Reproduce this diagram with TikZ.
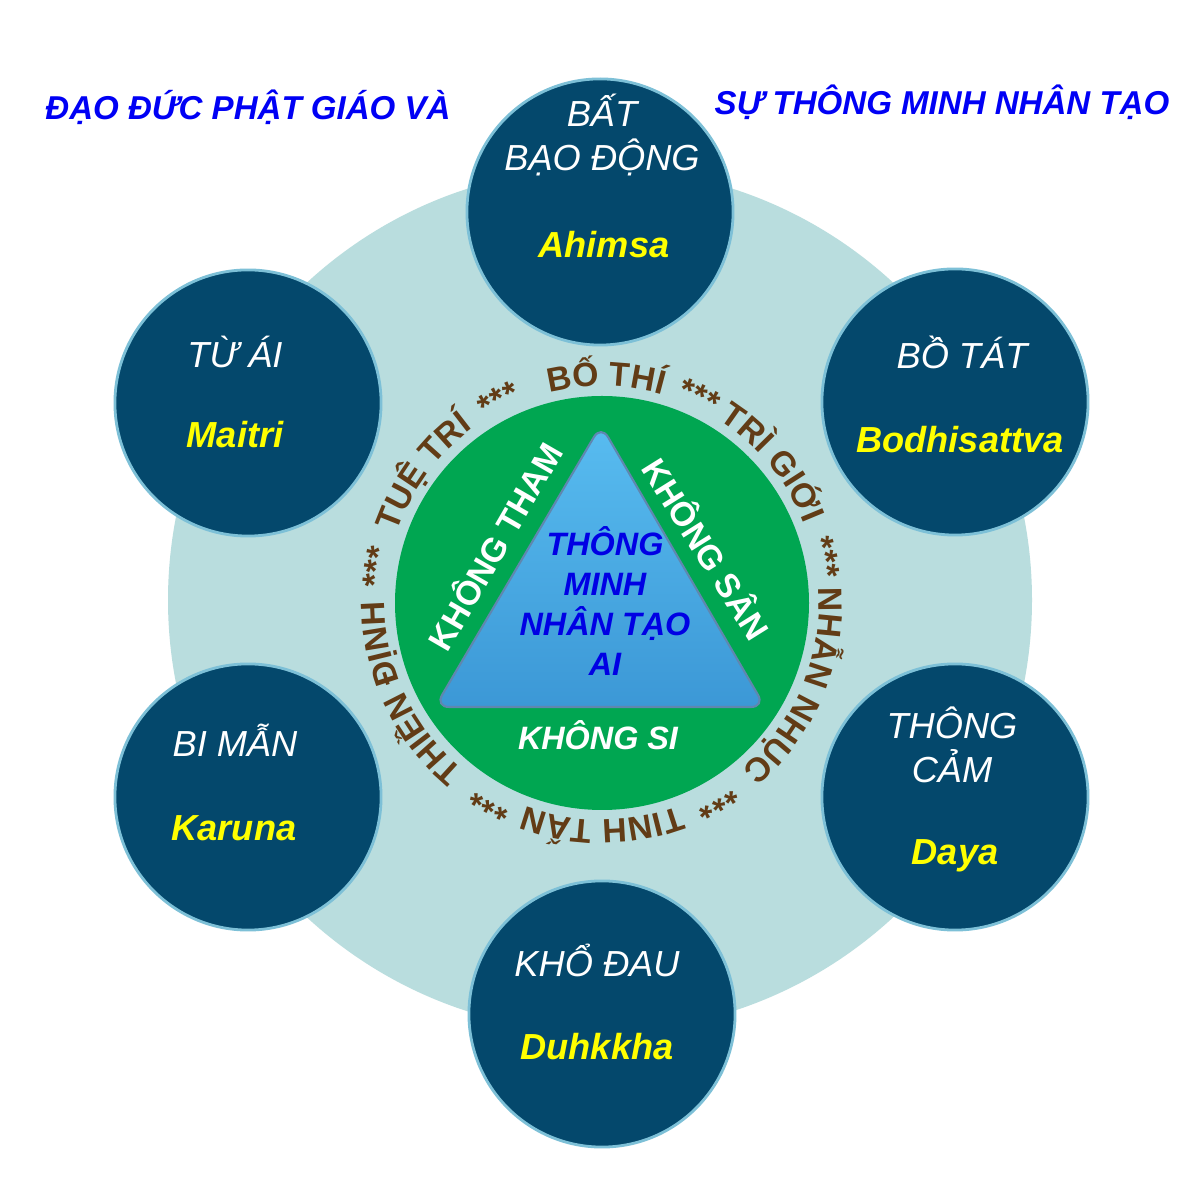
\documentclass[tikz,border=0pt]{standalone}
\usepackage{fontspec}
\setmainfont{Liberation Sans}
\definecolor{TitleBlue}{RGB}{0, 0, 245}
\definecolor{CoreBlue}{RGB}{0, 0, 228}
\definecolor{VirtueTeal}{RGB}{4, 72, 108}
\definecolor{RimBlue}{RGB}{125, 192, 215}
\definecolor{HaloGrey}{RGB}{185, 221, 222}
\definecolor{PathGreen}{RGB}{0, 166, 81}
\definecolor{RingBrown}{RGB}{98, 60, 22}
\definecolor{SkyTop}{RGB}{88, 188, 240}
\definecolor{SkyBottom}{RGB}{60, 152, 214}
\definecolor{SkyEdge}{RGB}{95, 135, 175}
\definecolor{PaliYellow}{RGB}{255, 255, 0}
\usepackage{tikz}
\usetikzlibrary{positioning, calc, decorations.text}

\newcommand{\ringword}[2]{%
	\path[decorate, decoration={text along path, text align=center, text color=RingBrown,
		text={|\fontsize{9.6}{11}\selectfont\bfseries|#2}}]
		(hub) ++(#1+45:217) arc[start angle=#1+45, end angle=#1-45, radius=217];
}

\begin{document}
\begin{tikzpicture}[x=0.01cm, y=0.01cm,
		virtue/.style={circle, fill=VirtueTeal, draw=RimBlue, line width=0.8pt, minimum size=2.66cm, inner sep=0pt},
		vname/.style={text=white, font=\fontsize{10.3}{12.6}\selectfont\itshape, align=center},
		pali/.style={text=PaliYellow, font=\fontsize{10.3}{12}\selectfont\bfseries\itshape},
		title/.style={text=TitleBlue, font=\fontsize{9.4}{11}\selectfont\bfseries\itshape},
		poison/.style={text=white, font=\fontsize{9.6}{11}\selectfont\bfseries},
		core/.style={text=CoreBlue, font=\fontsize{9.2}{11.3}\selectfont\bfseries\itshape, align=center}]
	\fill[white] (0,0) rectangle (1200,1200);
	\useasboundingbox (0,0) rectangle (1200,1200);

	\coordinate (hub) at (602,597);
	\fill[HaloGrey] (600,600) circle[radius=432];
	\fill[PathGreen] (hub) circle[radius=207];
	\draw[SkyEdge, line width=0.6pt, rounded corners=4pt, top color=SkyTop, bottom color=SkyBottom]
		(435,493) -- (601,775) -- (765,493) -- cycle;

	\node[core] (ai) at (605,599) {THÔNG\\MINH\\NHÂN TẠO\\AI};
	\node[poison, rotate=60] (tham) at (493,655) {KHÔNG THAM};
	\node[poison, rotate=-58] (san) at (708,652) {KHÔNG SÂN};
	\node[poison, font=\fontsize{9.2}{11}\selectfont\bfseries\itshape] (si) at (598,465) {KHÔNG SI};

	\ringword{89}{BỐ THÍ}
	\ringword{64.8}{***}
	\ringword{39.5}{TRÌ GIỚI}
	\ringword{11.5}{***}
	\ringword{-23}{NHẪN NHỤC}
	\ringword{-60}{***}
	\ringword{-90}{TINH TẤN}
	\ringword{-119}{***}
	\ringword{-155}{THIỀN ĐỊNH}
	\ringword{-189}{***}
	\ringword{143.7}{TUỆ TRÍ}
	\ringword{117}{***}

	\node[virtue] (ahimsa) at (600,988) {};
	\node[virtue] (maitri) at (248,797) {};
	\node[virtue] (bodhi) at (955,798) {};
	\node[virtue] (karuna) at (248,403) {};
	\node[virtue] (daya) at (955,403) {};
	\node[virtue] (duhkha) at (602,186) {};

	\node[vname] (ahimsa-vn) at (602,1065) {BẤT\\BẠO ĐỘNG};
	\node[pali] (ahimsa-pl) at (604,955) {Ahimsa};
	\node[vname] (maitri-vn) at (235,848) {TỪ ÁI};
	\node[pali] (maitri-pl) at (235,765) {Maitri};
	\node[vname] (bodhi-vn) at (962,848) {BỒ TÁT};
	\node[pali] (bodhi-pl) at (960,760) {Bodhisattva};
	\node[vname] (karuna-vn) at (235,460) {BI MẪN};
	\node[pali] (karuna-pl) at (234,372) {Karuna};
	\node[vname] (daya-vn) at (952,455) {THÔNG\\CẢM};
	\node[pali] (daya-pl) at (955,344) {Daya};
	\node[vname] (duhkha-vn) at (597,240) {KHỔ ĐAU};
	\node[pali] (duhkha-pl) at (597,153) {Duhkkha};

	\node[title] (title-l) at (248,1093) {ĐẠO ĐỨC PHẬT GIÁO VÀ};
	\node[title] (title-r) at (942,1098) {SỰ THÔNG MINH NHÂN TẠO};
\end{tikzpicture}
\end{document}
